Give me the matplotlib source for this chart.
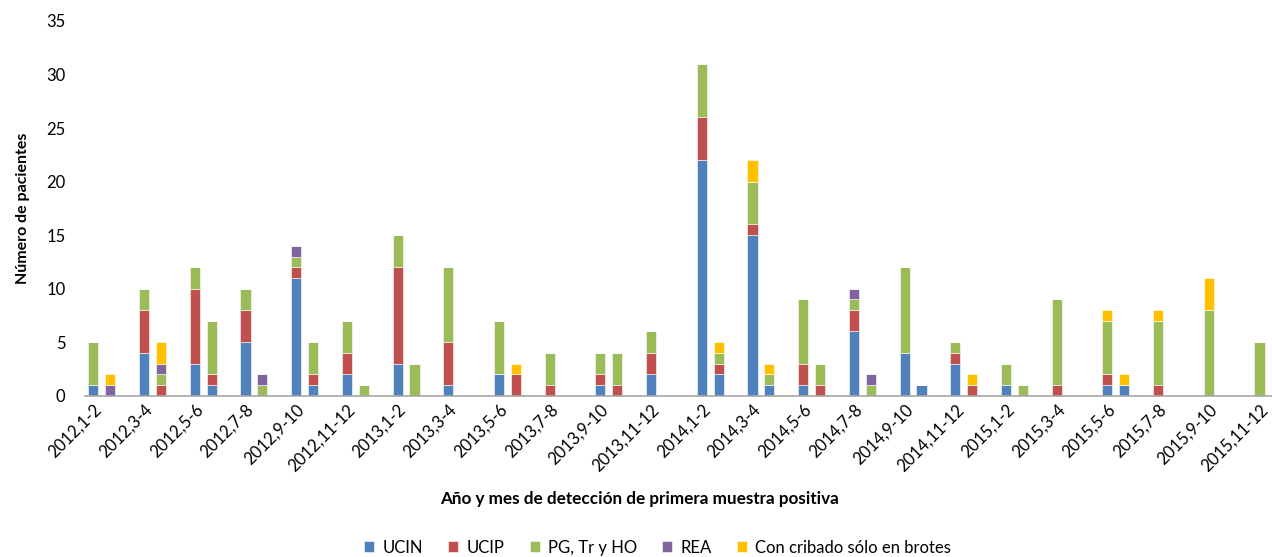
import matplotlib
matplotlib.use('Agg')
import matplotlib.pyplot as plt
import numpy as np

plt.rcParams['font.family'] = ['Lato', 'DejaVu Sans']

periods = ['2012,1-2', '2012,3-4', '2012,5-6', '2012,7-8', '2012,9-10', '2012,11-12',
           '2013,1-2', '2013,3-4', '2013,5-6', '2013,7-8', '2013,9-10', '2013,11-12',
           '2014,1-2', '2014,3-4', '2014,5-6', '2014,7-8', '2014,9-10', '2014,11-12',
           '2015,1-2', '2015,3-4', '2015,5-6', '2015,7-8', '2015,9-10', '2015,11-12']

# two bars per period (first month, second month)
ucin = [1, 0, 4, 0, 3, 1, 5, 0, 11, 1, 2, 0,
        3, 0, 1, 0, 2, 0, 0, 0, 1, 0, 2, 0,
        22, 2, 15, 1, 1, 0, 6, 0, 4, 1, 3, 0,
        1, 0, 0, 0, 1, 1, 0, 0, 0, 0, 0, 0]
ucip = [0, 0, 4, 1, 7, 1, 3, 0, 1, 1, 2, 0,
        9, 0, 4, 0, 0, 2, 1, 0, 1, 1, 2, 0,
        4, 1, 1, 0, 2, 1, 2, 0, 0, 0, 1, 1,
        0, 0, 1, 0, 1, 0, 1, 0, 0, 0, 0, 0]
pg = [4, 0, 2, 1, 2, 5, 2, 1, 1, 3, 3, 1,
      3, 3, 7, 0, 5, 0, 3, 0, 2, 3, 2, 0,
      5, 1, 4, 1, 6, 2, 1, 1, 8, 0, 1, 0,
      2, 1, 8, 0, 5, 0, 6, 0, 8, 0, 5, 0]
rea = [0, 1, 0, 1, 0, 0, 0, 1, 1, 0, 0, 0,
       0, 0, 0, 0, 0, 0, 0, 0, 0, 0, 0, 0,
       0, 0, 0, 0, 0, 0, 1, 1, 0, 0, 0, 0,
       0, 0, 0, 0, 0, 0, 0, 0, 0, 0, 0, 0]
cribado = [0, 1, 0, 2, 0, 0, 0, 0, 0, 0, 0, 0,
           0, 0, 0, 0, 0, 1, 0, 0, 0, 0, 0, 0,
           0, 1, 2, 1, 0, 0, 0, 0, 0, 0, 0, 1,
           0, 0, 0, 0, 1, 1, 1, 0, 3, 0, 0, 0]

series = [('UCIN', ucin, '#4F81BD'),
          ('UCIP', ucip, '#C0504D'),
          ('PG, Tr y HO', pg, '#9BBB59'),
          ('REA', rea, '#8064A2'),
          ('Con cribado sólo en brotes', cribado, '#FFC000')]

n = len(periods)
x = np.array([3 * i + j for i in range(n) for j in range(2)])

fig = plt.figure(figsize=(12.72, 5.57), dpi=100)
ax = fig.add_axes([0.0668, 0.2896, 0.9566, 0.6727])

bottom = np.zeros(len(x))
for name, vals, col in series:
    vals = np.array(vals)
    ax.bar(x, vals, 0.6, bottom=bottom, color=col, label=name,
           edgecolor='white', linewidth=0.4)
    bottom += vals

ax.set_xlim(-0.5, 3 * n - 0.5)
ax.set_ylim(0, 35)
ax.set_yticks(range(0, 36, 5))
ax.set_xticks([3 * i for i in range(n)])
ax.set_xticklabels(periods, rotation=45, ha='right', va='top',
                   rotation_mode='anchor', fontsize=12)
ax.tick_params(axis='y', length=0, labelsize=12, pad=14)
ax.tick_params(axis='x', length=0, pad=4)

for s in ['top', 'right', 'left']:
    ax.spines[s].set_visible(False)
ax.spines['bottom'].set_color('#A6A6A6')
ax.spines['bottom'].set_linewidth(1.2)

ax.set_ylabel('Número de pacientes', fontsize=11.5, fontweight='bold', labelpad=12)
fig.text(0.503, 0.105, 'Año y mes de detección de primera muestra positiva',
         ha='center', va='center', fontsize=12.3, fontweight='bold')

handles, labels = ax.get_legend_handles_labels()
fig.legend(handles, labels, loc='center', bbox_to_anchor=(0.517, 0.017), ncol=5,
           frameon=False, fontsize=12, handlelength=0.6, handleheight=0.6,
           columnspacing=1.5, handletextpad=0.5)

fig.savefig('out.png', dpi=100)
